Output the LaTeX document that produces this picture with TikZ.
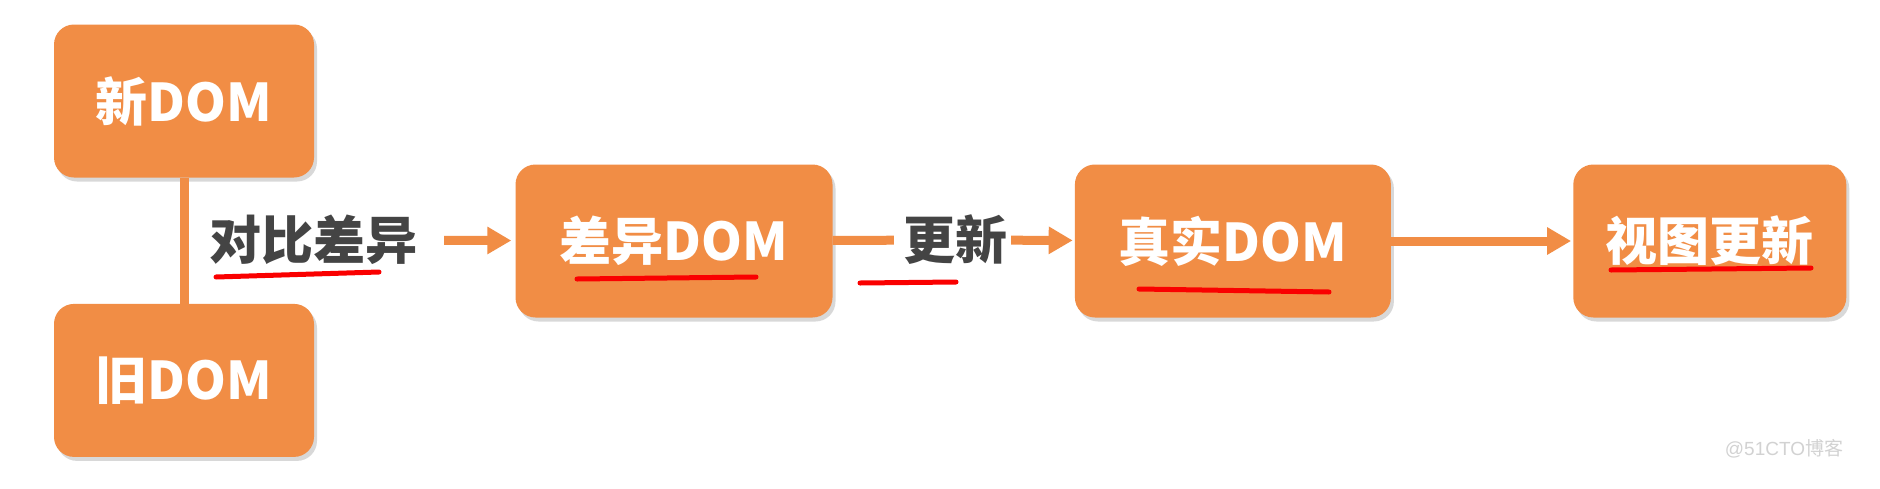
\documentclass[tikz,border=0pt]{standalone}
\usepackage{fontspec}
\setmainfont{Liberation Sans}
\newfontfamily\cjk{Noto Sans CJK SC}
\usetikzlibrary{positioning,arrows.meta,shadows}
\definecolor{boxorange}{RGB}{241,141,69}
\definecolor{labelgray}{RGB}{68,68,68}
\definecolor{penred}{RGB}{250,0,0}

\begin{document}
\begin{tikzpicture}[x=1pt,y=-1pt,
  node distance=126pt,
  dom/.style={rounded corners=20pt,fill=boxorange,text=white,minimum height=153pt,inner sep=0pt,
    font=\cjk\bfseries\fontsize{52}{52}\selectfont,
    drop shadow={shadow xshift=3pt,shadow yshift=-4pt,opacity=0.3,fill=gray}},
  lbl/.style={text=labelgray,inner sep=0pt,font=\cjk\bfseries\fontsize{52}{52}\selectfont},
  link/.style={draw=boxorange,line width=9pt},
  arr/.style={link,-{Triangle[length=24pt,width=26pt]}},
  uline/.style={draw=penred,line width=5pt,line cap=round}]
\useasboundingbox[fill=white] (0,0) rectangle (1880,488);
\node[dom,minimum width=260pt] (newdom) at (184,101) {新DOM};
\node[dom,minimum width=260pt,below=of newdom] (olddom) {旧DOM};
\node[lbl] (diff) at (313,240) {对比差异};
\node[dom,minimum width=317pt] (diffdom) at (674,241) {差异DOM};
\node[lbl] (update) at (955,240) {更新};
\node[dom,minimum width=316pt,right=242pt of diffdom] (realdom) {真实DOM};
\node[dom,minimum width=273pt,right=182pt of realdom] (view) {视图更新};
\node[text=gray!35,font=\fontsize{19}{19}\selectfont] (wm) at (1784,449) {@51CTO\cjk 博客};
\draw[link] (newdom) -- (olddom);
\draw[arr,shorten <=27pt,shorten >=4pt] (diff) -- (diffdom);
\draw[link,shorten >=9pt] (diffdom) -- (update);
\draw[arr,shorten <=4pt,shorten >=2pt] (update) -- (realdom);
\draw[arr,shorten >=2pt] (realdom) -- (view);
% hand-drawn red underlines
\draw[uline] (216,277) -- (379,272);
\draw[uline] (577,279) -- (756,277);
\draw[uline] (860,283) -- (956,282);
\draw[uline] (1139,289) -- (1329,292);
\draw[uline] (1611,270) -- (1811,268);
\end{tikzpicture}
\end{document}
